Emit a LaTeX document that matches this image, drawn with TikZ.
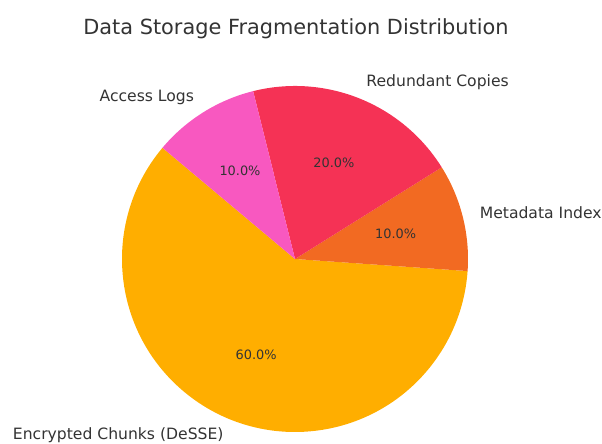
\documentclass[tikz,border=0pt]{standalone}
\usepackage{fontspec}
\setmainfont{DejaVu Sans}
\definecolor{txt}{HTML}{333333}
\definecolor{chunkc}{HTML}{FFAE00}
\definecolor{metac}{HTML}{F26A22}
\definecolor{redc}{HTML}{F53255}
\definecolor{logc}{HTML}{F858C0}
\begin{document}
\begin{tikzpicture}[x=1pt,y=1pt,
  titletext/.style={font=\fontsize{20.85}{24}\selectfont, text=txt, inner sep=0pt},
  lbl/.style={font=\fontsize{15.6}{18}\selectfont, text=txt, inner sep=0pt},
  pct/.style={font=\fontsize{12.9}{15}\selectfont, text=txt, inner sep=0pt}]
\useasboundingbox (0,0) rectangle (602,444);
\def\R{173}
\coordinate (c) at (295,185);
% wedges, counter-clockwise from 140 degrees
\fill[chunkc] (c) -- ++(140:\R) arc[start angle=140, end angle=356, radius=\R] -- cycle;
\fill[metac]  (c) -- ++(356:\R) arc[start angle=356, end angle=392, radius=\R] -- cycle;
\fill[redc]   (c) -- ++(32:\R)  arc[start angle=32,  end angle=104, radius=\R] -- cycle;
\fill[logc]   (c) -- ++(104:\R) arc[start angle=104, end angle=140, radius=\R] -- cycle;
% title
\node[titletext, anchor=base] (title) at (296,409) {Data Storage Fragmentation Distribution};
% category labels at 1.1 R
\node[lbl, anchor=east] (lchunk) at ([shift={(248:190.3)}]c) {Encrypted Chunks (DeSSE)};
\node[lbl, anchor=west] (lmeta)  at ([shift={(14:190.3)}]c)  {Metadata Index};
\node[lbl, anchor=west] (lred)   at ([shift={(68:190.3)}]c)  {Redundant Copies};
\node[lbl, anchor=east] (llog)   at ([shift={(122:190.3)}]c) {Access Logs};
% percentages at 0.6 R
\node[pct] (pchunk) at ([shift={(248:103.8)}]c) {60.0\%};
\node[pct] (pmeta)  at ([shift={(14:103.8)}]c)  {10.0\%};
\node[pct] (pred)   at ([shift={(68:103.8)}]c)  {20.0\%};
\node[pct] (plog)   at ([shift={(122:103.8)}]c) {10.0\%};
\end{tikzpicture}
\end{document}
